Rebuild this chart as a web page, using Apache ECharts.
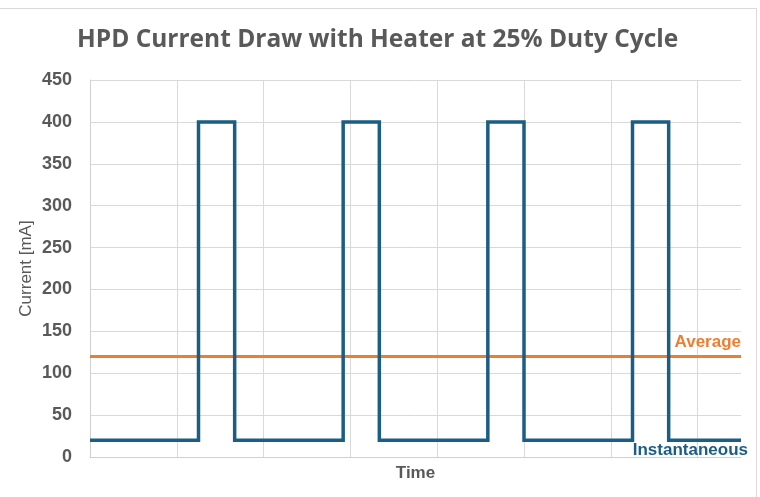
<!DOCTYPE html>
<html>
<head>
<meta charset="utf-8">
<script src="https://cdn.jsdelivr.net/npm/echarts@6/dist/echarts.min.js"></script>
<style>
html,body{margin:0;padding:0;background:#fff;}
#chart{width:760px;height:497px;}
</style>
</head>
<body>
<div id="chart"></div>
<script>
// Time axis (arbitrary units) and current values of the square wave
var timeValues = [0, 3.75, 3.75, 5, 5, 8.75, 8.75, 10, 10, 13.75, 13.75, 15, 15, 18.75, 18.75, 20, 20, 22.5];
var currentValues = [20, 20, 400, 400, 20, 20, 400, 400, 20, 20, 400, 400, 20, 20, 400, 400, 20, 20];
var averageTime = [0, 22.5];
var averageValues = [120, 120];
var yTicks = [0, 50, 100, 150, 200, 250, 300, 350, 400, 450];

var instData = timeValues.map(function (t, i) { return [t, currentValues[i]]; });
var avgData = averageTime.map(function (t, i) { return [t, averageValues[i]]; });

var chart = echarts.init(document.getElementById('chart'));
var grey = '#595959';
chart.setOption({
  animation: false,
  backgroundColor: '#fff',
  title: {
    text: 'HPD Current Draw with Heater at 25% Duty Cycle',
    left: 72,
    top: 23,
    textStyle: { fontFamily: 'Open Sans', fontWeight: 'bold', fontSize: 24.5, color: grey }
  },
  graphic: [
    { type: 'line', shape: { x1: 0, y1: 8.5, x2: 756.5, y2: 8.5 }, style: { stroke: '#d9d9d9', lineWidth: 1 } },
    { type: 'line', shape: { x1: 756.5, y1: 8.5, x2: 756.5, y2: 497 }, style: { stroke: '#d9d9d9', lineWidth: 1 } }
  ],
  grid: { left: 90, right: 19, top: 80, bottom: 40, containLabel: false },
  xAxis: {
    type: 'value',
    min: 0,
    max: 22.5,
    interval: 3,
    name: 'Time',
    nameLocation: 'middle',
    nameGap: 8,
    nameTextStyle: { fontFamily: 'Liberation Sans', fontWeight: 'bold', fontSize: 17, color: grey },
    axisLine: { show: true, lineStyle: { color: '#d0d0d0', width: 1 } },
    axisTick: { show: false },
    axisLabel: { show: false },
    splitLine: { show: true, showMaxLine: false, lineStyle: { color: '#d9d9d9', width: 1 } }
  },
  yAxis: {
    type: 'value',
    min: yTicks[0],
    max: yTicks[yTicks.length - 1],
    interval: yTicks[1] - yTicks[0],
    name: 'Current [mA]',
    nameLocation: 'middle',
    nameGap: 55,
    nameMoveOverlap: false,
    nameTextStyle: { fontFamily: 'Liberation Sans', fontSize: 17, color: grey },
    axisLine: { show: true, lineStyle: { color: '#d0d0d0', width: 1 } },
    axisTick: { show: false },
    axisLabel: { margin: 18, fontFamily: 'Liberation Sans', fontWeight: 'bold', fontSize: 18, color: grey },
    splitLine: { show: true, lineStyle: { color: '#d9d9d9', width: 1 } }
  },
  series: [
    {
      name: 'Average',
      type: 'line',
      data: avgData,
      symbol: 'none',
      lineStyle: { color: '#ED7D31', width: 3 },
      z: 3,
      markPoint: {
        symbol: 'circle',
        symbolSize: 0,
        data: [{ coord: avgData[avgData.length - 1] }],
        label: {
          show: true,
          formatter: 'Average',
          position: 'inside',
          align: 'right',
          verticalAlign: 'bottom',
          offset: [0, -6],
          fontFamily: 'Liberation Sans',
          fontWeight: 'bold',
          fontSize: 17,
          color: '#ED7D31'
        }
      }
    },
    {
      name: 'Instantaneous',
      type: 'line',
      data: instData,
      symbol: 'none',
      lineStyle: { color: '#1B5E84', width: 3.5, join: 'miter' },
      z: 4,
      markPoint: {
        symbol: 'circle',
        symbolSize: 0,
        data: [{ coord: instData[instData.length - 1] }],
        label: {
          show: true,
          formatter: 'Instantaneous',
          position: 'inside',
          align: 'right',
          verticalAlign: 'top',
          offset: [7, 2],
          fontFamily: 'Liberation Sans',
          fontWeight: 'bold',
          fontSize: 17,
          color: '#1B5E84'
        }
      }
    }
  ]
});
</script>
</body>
</html>
